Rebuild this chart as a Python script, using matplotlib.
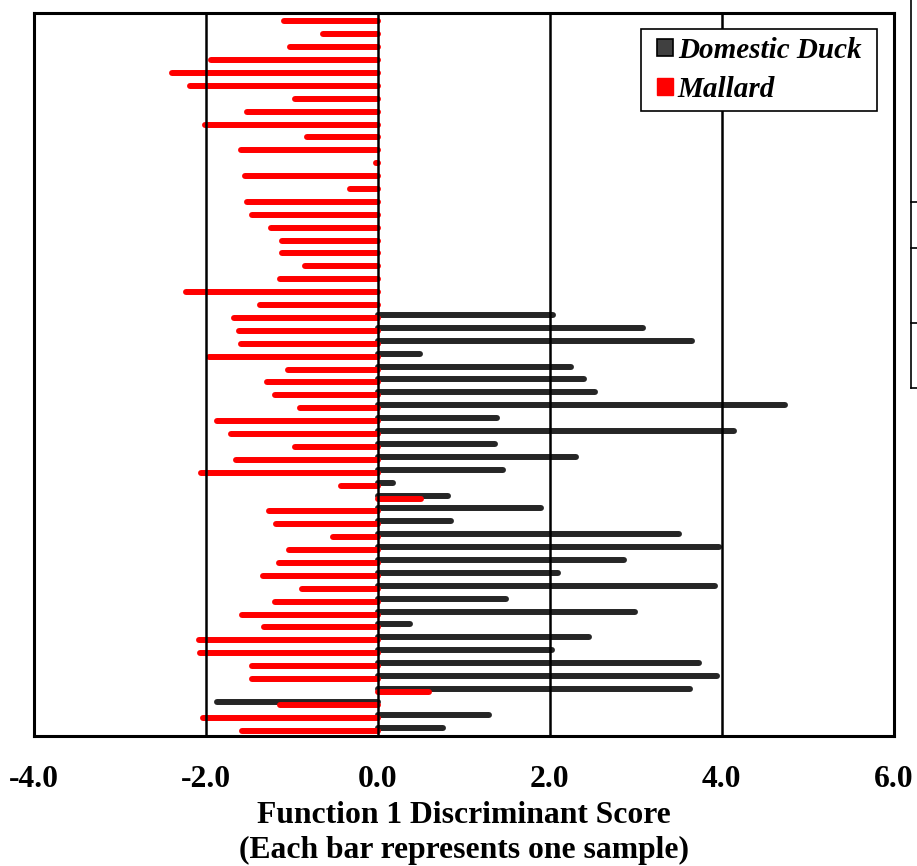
import matplotlib.pyplot as plt
import numpy as np
from matplotlib.patches import Patch, Rectangle
from matplotlib.lines import Line2D
from matplotlib.legend_handler import HandlerPatch

# discriminant scores, one row per sample (top to bottom)
mallard = [-1.09, -0.64, -1.02, -1.94, -2.39, -2.19, -0.96, -1.52, -2.01, -0.82,
           -1.59, -0.02, -1.55, -0.33, -1.52, -1.47, -1.24, -1.12, -1.12, -0.85,
           -1.14, -2.23, -1.37, -1.67, -1.61, -1.59, -1.97, -1.04, -1.29, -1.20,
           -0.91, -1.87, -1.71, -0.96, -1.65, -2.06, -0.43, 0.50, -1.27, -1.19,
           -0.52, -1.03, -1.15, -1.34, -0.88, -1.20, -1.58, -1.32, -2.08, -2.07,
           -1.47, -1.46, 0.60, -1.14, -2.04, -1.58]
domestic = [0.0] * 23 + [2.04, 3.08, 3.65, 0.49, 2.25, 2.40, 2.52, 4.73, 1.39, 4.14,
                         1.36, 2.30, 1.46, 0.18, 0.82, 1.90, 0.85, 3.50, 3.97, 2.86,
                         2.10, 3.92, 1.49, 2.99, 0.37, 2.45, 2.02, 3.73, 3.94, 3.63,
                         -1.87, 1.29, 0.76]
xticks = [-4.0, -2.0, 0.0, 2.0, 4.0, 6.0]

serif = 'Liberation Serif'
plt.rcParams['font.family'] = serif

fig = plt.figure(figsize=(9.17, 8.66), dpi=100)
ax = fig.add_axes([0.0371, 0.1505, 0.9375, 0.8341])

rows = np.arange(len(mallard))
dom = np.array(domestic)
has_dom = dom != 0

ax.hlines(rows[has_dom] - 0.23, 0, dom[has_dom], colors='#262626', lw=4.3,
          capstyle='round', zorder=2)
ax.hlines(rows, 0, mallard, colors='#ff0000', lw=4.3, capstyle='round', zorder=3)

for xv in xticks[1:-1]:
    ax.axvline(xv, color='black', lw=1.8, zorder=4)

ax.set_xlim(-4, 6)
ax.set_ylim(len(mallard) - 1 + 0.39, -0.62)
ax.set_yticks([])
ax.set_xticks(xticks)
ax.set_xticklabels(['%.1f' % v for v in xticks], fontsize=22.8, fontweight='bold',
                   family=serif)
ax.tick_params(axis='x', length=0, pad=21)
for s in ax.spines.values():
    s.set_linewidth(2.2)
    s.set_zorder(5)

ax.set_xlabel('Function 1 Discriminant Score\n(Each bar represents one sample)',
              fontsize=22.8, fontweight='bold', family=serif, labelpad=5, linespacing=1.3)


def square(legend, orig_handle, xdescent, ydescent, width, height, fontsize):
    # small square shifted right inside the handle box
    side = 0.57 * fontsize
    return Rectangle((-xdescent + width - side, -ydescent + (height - side) / 2), side, side)


handles = [Patch(facecolor='#404040', edgecolor='black', lw=1.2, label='Domestic Duck\u00a0'),
           Patch(facecolor='#ff0000', edgecolor='#ff0000', label='Mallard')]
leg = ax.legend(handles=handles, loc='upper right', bbox_to_anchor=(0.980, 0.9787),
                borderaxespad=0, fancybox=False, framealpha=1, edgecolor='black',
                prop={'family': serif, 'weight': 'bold', 'style': 'italic', 'size': 21},
                handlelength=0.85, handleheight=0.57, handletextpad=0.15,
                labelspacing=0.42, borderpad=0.27,
                handler_map={Patch: HandlerPatch(patch_func=square)})
leg.get_frame().set_linewidth(1.2)
leg.set_zorder(6)

# edge of the neighbouring panel cut off at the right
for seg in [([0.9935, 0.9935], [1.0, 0.552]), ([0.9935, 1.0], [0.552, 0.552]),
            ([0.9935, 1.0], [0.7667, 0.7667]), ([0.9935, 1.0], [0.7136, 0.7136]),
            ([0.9935, 1.0], [0.627, 0.627])]:
    fig.add_artist(Line2D(seg[0], seg[1], transform=fig.transFigure, color='black', lw=1.2))

plt.savefig('out.png', dpi=100)
